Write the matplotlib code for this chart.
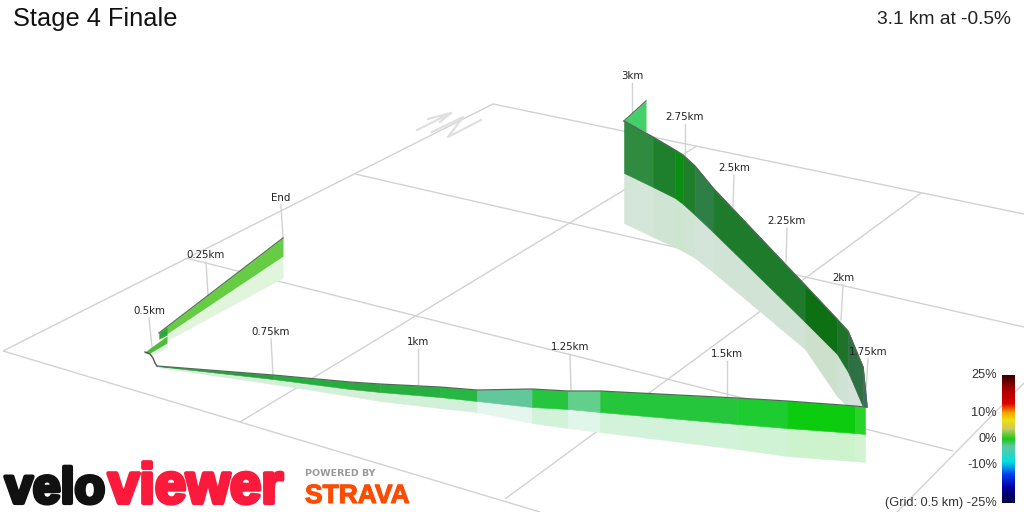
#!/usr/bin/env python3

import matplotlib
matplotlib.use('Agg')
import matplotlib.pyplot as plt
import matplotlib.patheffects as pe
from matplotlib.colors import LinearSegmentedColormap
import numpy as np

grid_lines = [
    ((3, 493), (351, 104)),
    ((493, 1024), (104, 214)),
    ((355, 1024), (174, 327)),
    ((186, 953), (258, 451)),
    ((3, 540), (351, 512)),
    ((240, 697), (422, 146)),
    ((505, 921), (499, 193)),
    ((897, 1024), (512, 383)),
]

# far leg of the climb
far_x = [624, 653, 675, 683, 695, 713, 805, 837, 848, 863, 867]
far_top = [121, 137, 150, 155, 166, 188, 285, 319, 331, 367, 407]
far_bot = [173, 187, 198, 204, 215, 232, 322, 354, 372, 407, 407]
far_shadow = [223, 237, 247, 251, 258, 272, 349, 396, 407, 407, 407]
far_colors = ['#2e8b40', '#1e7f2c', '#0b8f12', '#1f7f2c', '#2e7f46',
              '#1e7b2b', '#0d7012', '#1f7329', '#2e7043', '#3b6b62']
far_shadow_colors = ['#d4e6da', '#d0e4d4', '#cce6ce', '#d0e4d4', '#d4e4da',
                     '#d0e3d4', '#cce0cc', '#d0e2d4', '#d4e2da', '#d4e2da']

# flag at the 3km end
flag_x = [624, 646]
flag_top = [121, 101]
flag_bot = [121, 132]

# near leg
near_x = [157, 273, 350, 380, 440, 477, 532, 568, 600, 737, 787, 855, 865]
near_top = [366, 375, 382, 384, 387, 390, 389, 391, 391, 398, 401, 406, 407]
near_bot = [366, 379, 389, 392, 397, 401, 407, 409, 412, 424, 428, 433, 434]
near_shadow = [367, 384, 396, 401, 408, 412, 423, 428, 432, 449, 456, 461, 462]
near_colors = ['#2a9e3c', '#26ad3e', '#2aa83e', '#26b040', '#26b840', '#62c79a',
               '#26c540', '#63cf8c', '#26c63c', '#1ccc30', '#0ccc10', '#28d428']
near_shadow_colors = ['#d4eed8', '#d2f0d8', '#d4eed8', '#d2f0d8', '#d2f0da', '#e4f6ee',
                      '#d2f2da', '#e0f6ea', '#d2f2da', '#cff3d4', '#cdf3cd', '#d2f4d2']

# finish leg
end_x = [159, 283]
end_top = [333, 238]
end_bot = [339, 256]
end_shadow = [345, 278]

block_x = [159, 167]
block_top = [333, 327]
block_bot = [339, 335]

hook_x = [145, 150, 167]
hook_top = [352, 348, 336]
hook_bot = [353, 353, 343]
hook_shadow = [353, 356, 348]

squiggle_x = [145, 150, 153, 155, 157]
squiggle_y = [352, 354, 358, 363, 366]

km_labels = ['3km', '2.75km', '2.5km', '2.25km', '2km', '1.75km', '1.5km',
             '1.25km', '1km', '0.75km', '0.5km', '0.25km', 'End']
km_text_x = [632, 685, 734, 787, 843, 868, 727, 570, 418, 271, 149, 206, 281]
km_text_y = [76, 117, 168, 221, 278, 352, 354, 347, 342, 332, 311, 255, 198]
km_foot_x = [632, 685, 733, 786, 841, 866, 727, 571, 418, 273, 152, 208, 283]
km_foot_y = [120, 155, 207, 262, 320, 392, 397, 391, 384, 375, 347, 295, 238]

scale_labels = ['25%', '10%', '0%', '-10%', '(Grid: 0.5 km) -25%']
scale_values = [25, 10, 0, -10, -25]
scale_stops = [(0.00, '#000040'), (0.12, '#0000a0'), (0.22, '#0040f0'), (0.32, '#00e0e0'),
               (0.44, '#60c8a0'), (0.50, '#18c818'), (0.58, '#c8c860'), (0.65, '#f0e010'),
               (0.71, '#f0a000'), (0.78, '#e00000'), (0.90, '#a00000'), (1.00, '#3a0000')]


def ribbon(ax, x, top, bot, colors, z):
    # same colour edge closes the seams between slices
    for i in range(len(x) - 1):
        ax.fill_between(x[i:i+2], top[i:i+2], bot[i:i+2], facecolor=colors[i],
                        edgecolor=colors[i], lw=0.4, zorder=z)


def main():
    plt.rcParams['font.family'] = ['Liberation Sans', 'DejaVu Sans']

    fig = plt.figure(figsize=(10.24, 5.12), dpi=100)
    ax = fig.add_axes([0, 0, 1, 1])

    for xs, ys in grid_lines:
        ax.plot(xs, ys, color='#d2d2d2', lw=1, zorder=1, solid_capstyle='butt')

    # north arrow
    ax.plot([417, 451, 428], [130, 113, 119], color='#e0e0e0', lw=1.6, zorder=1)
    ax.plot([451, 440], [113, 122], color='#e0e0e0', lw=1.6, zorder=1)
    ax.plot([432, 463, 448, 481], [132, 117, 137, 120], color='#e0e0e0', lw=1.6, zorder=1)

    for i in range(len(km_labels)):
        ax.plot([km_text_x[i], km_foot_x[i]], [km_text_y[i] + 7, km_foot_y[i]],
                color='#d2d2d2', lw=1, zorder=2)
        ax.text(km_text_x[i], km_text_y[i], km_labels[i], family='DejaVu Sans', fontsize=7.4,
                ha='center', va='center', color='#222222', zorder=8)

    # far leg
    ribbon(ax, far_x, far_bot, far_shadow, far_shadow_colors, 3)
    ribbon(ax, far_x, far_top, far_bot, far_colors, 4)
    ax.plot(far_x, far_top, color='#4f6b55', lw=1, zorder=5)
    ax.fill_between(flag_x, flag_top, flag_bot, color='#44d068', lw=0, zorder=3)
    ax.plot(flag_x, flag_top, color='#557a60', lw=1, zorder=5)

    # finish leg
    ax.fill_between(end_x, end_bot, end_shadow, color='#e0f5dc', lw=0, zorder=3)
    ax.fill_between(end_x, end_top, end_bot, color='#66cc44', lw=0, zorder=4)
    ax.plot(end_x, end_top, color='#557a50', lw=1, zorder=5)
    ax.fill_between(block_x, block_top, block_bot, color='#2fa83a', lw=0, zorder=4)
    ax.fill_between(hook_x, hook_bot, hook_shadow, color='#e0f5dc', lw=0, zorder=3)
    ax.fill_between(hook_x, hook_top, hook_bot, color='#55b840', lw=0, zorder=4)
    ax.plot(squiggle_x, squiggle_y, color='#555555', lw=1, zorder=5)

    # near leg goes over the rest
    ribbon(ax, near_x, near_bot, near_shadow, near_shadow_colors, 6)
    ribbon(ax, near_x, near_top, near_bot, near_colors, 7)
    ax.plot(near_x, near_top, color='#4f6b55', lw=0.9, zorder=7)

    # colour scale
    cmap = LinearSegmentedColormap.from_list('grade', scale_stops)
    grades = np.linspace(25, -25, 128)[:, np.newaxis]
    ax.imshow(grades, cmap=cmap, vmin=-25, vmax=25, extent=(1002, 1015, 503, 375),
              aspect='auto', zorder=8)
    for val, lab in zip(scale_values, scale_labels):
        ax.text(997, 439 - val * 2.55, lab, ha='right', va='center', fontsize=9.2,
                color='#333333', zorder=9)

    ax.text(13, 19, 'Stage 4 Finale', fontsize=18.3, ha='left', va='center', color='#111111')
    ax.text(1011, 19, '3.1 km at -0.5%', fontsize=13.8, ha='right', va='center', color='#222222')

    # logos
    ax.text(5, 503, 'velo', fontsize=36, fontweight='bold', color='#111111',
            ha='left', va='baseline', zorder=9,
            path_effects=[pe.withStroke(linewidth=3, foreground='#111111')])
    ax.text(108, 503, 'viewer', fontsize=40.5, fontweight='bold', color='#fb1a3c',
            ha='left', va='baseline', zorder=9,
            path_effects=[pe.withStroke(linewidth=3, foreground='#fb1a3c')])
    ax.text(305, 474, 'POWERED BY', family='DejaVu Sans', fontsize=6.8, fontweight='bold',
            color='#999999', ha='left', va='center', zorder=9)
    ax.text(305, 503, 'STRAVA', fontsize=19, fontweight='bold', color='#fc4c02',
            ha='left', va='baseline', zorder=9,
            path_effects=[pe.withStroke(linewidth=0.8, foreground='#fc4c02')])

    ax.set_xlim(0, 1024)
    ax.set_ylim(512, 0)
    ax.axis('off')

    fig.savefig('out.png', dpi=100, facecolor='white')


if __name__ == '__main__':
    main()
